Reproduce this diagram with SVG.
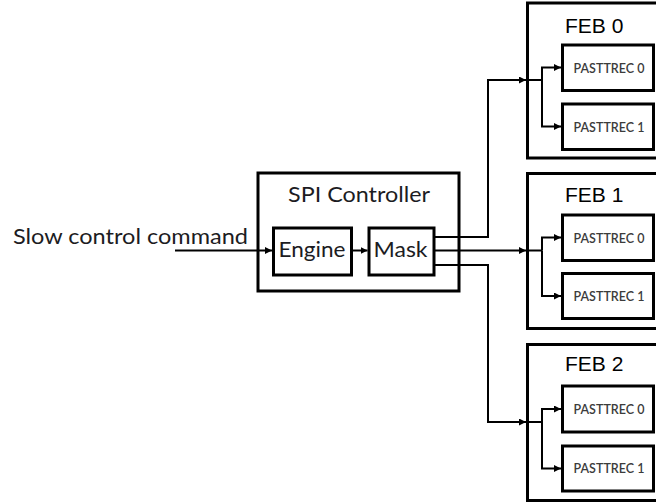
<svg xmlns="http://www.w3.org/2000/svg" width="656" height="504" viewBox="0 0 656 504">
  <defs>
    <marker id="arrow" markerUnits="userSpaceOnUse" markerWidth="8" markerHeight="7" refX="7" refY="3.5" orient="auto">
      <path d="M0,0 L7,3.5 L0,7 z" fill="#000"/>
    </marker>
  </defs>
  <style>
    .box { fill: #fff; stroke: #000; stroke-width: 3; }
    .wire { fill: none; stroke: #000; stroke-width: 2; }
    .arr { marker-end: url(#arrow); }
    .cal { font-family: Lato, "Open Sans", "Liberation Sans", sans-serif; fill: #1c1c22; }
    .feb { font-family: "Liberation Sans", Arial, sans-serif; font-size: 21px; fill: #000; }
    .chip { font-family: Lato, "Open Sans", "Liberation Sans", sans-serif; font-size: 14px; fill: #3c3c3c; font-weight: 600; }
  </style>

  <rect width="656" height="504" fill="#fff"/>

  <!-- input label -->
  <text id="input-label" class="cal" x="13" y="243.5" font-size="21.5" textLength="235" lengthAdjust="spacingAndGlyphs">Slow control command</text>

  <!-- SPI controller with engine and mask -->
  <g id="spi-controller">
    <rect class="box" x="258" y="173" width="201" height="118"/>
    <text class="cal" x="288" y="201.5" font-size="21" textLength="142" lengthAdjust="spacingAndGlyphs">SPI Controller</text>
  </g>
  <g id="engine">
    <rect class="box" x="273.5" y="228" width="78" height="47"/>
    <text class="cal" x="278.5" y="257" font-size="22" textLength="67" lengthAdjust="spacingAndGlyphs">Engine</text>
  </g>
  <g id="mask">
    <rect class="box" x="369" y="228" width="65" height="47"/>
    <text class="cal" x="373.5" y="257" font-size="22" textLength="54" lengthAdjust="spacingAndGlyphs">Mask</text>
  </g>

  <!-- front-end boards -->
  <g id="feb0">
    <rect class="box" x="527.5" y="3" width="140" height="155"/>
    <text class="feb" x="565" y="33">FEB 0</text>
    <g id="feb0-pasttrec0">
      <rect class="box" x="562.5" y="45" width="91" height="45.5"/>
      <text class="chip" x="573.5" y="72.5" textLength="71" lengthAdjust="spacingAndGlyphs">PASTTREC 0</text>
    </g>
    <g id="feb0-pasttrec1">
      <rect class="box" x="562.5" y="104" width="91" height="45.5"/>
      <text class="chip" x="573.5" y="131.5" textLength="71" lengthAdjust="spacingAndGlyphs">PASTTREC 1</text>
    </g>
  </g>

  <g id="feb1">
    <rect class="box" x="527.5" y="173.5" width="140" height="155"/>
    <text class="feb" x="565" y="202">FEB 1</text>
    <g id="feb1-pasttrec0">
      <rect class="box" x="562.5" y="215" width="91" height="45.5"/>
      <text class="chip" x="573.5" y="242.5" textLength="71" lengthAdjust="spacingAndGlyphs">PASTTREC 0</text>
    </g>
    <g id="feb1-pasttrec1">
      <rect class="box" x="562.5" y="273.5" width="91" height="45"/>
      <text class="chip" x="573.5" y="301" textLength="71" lengthAdjust="spacingAndGlyphs">PASTTREC 1</text>
    </g>
  </g>

  <g id="feb2">
    <rect class="box" x="527.5" y="344.5" width="140" height="156"/>
    <text class="feb" x="565" y="370.5">FEB 2</text>
    <g id="feb2-pasttrec0">
      <rect class="box" x="562.5" y="386" width="91" height="46"/>
      <text class="chip" x="573.5" y="413.5" textLength="71" lengthAdjust="spacingAndGlyphs">PASTTREC 0</text>
    </g>
    <g id="feb2-pasttrec1">
      <rect class="box" x="562.5" y="446" width="91" height="45"/>
      <text class="chip" x="573.5" y="473" textLength="71" lengthAdjust="spacingAndGlyphs">PASTTREC 1</text>
    </g>
  </g>

  <!-- connectors -->
  <g id="connectors">
    <path class="wire arr" d="M175,250.5 H272"/>
    <path class="wire arr" d="M352,250.5 H367.5"/>

    <path class="wire arr" d="M434,237 H488 V80 H526"/>
    <path class="wire arr" d="M434,250.5 H526"/>
    <path class="wire arr" d="M434,265 H488 V422 H526"/>

    <!-- fan-out inside FEB 0 -->
    <path class="wire" d="M527,80 H542"/>
    <path class="wire arr" d="M542,80 V67.5 H561"/>
    <path class="wire arr" d="M542,80 V126.5 H561"/>

    <!-- fan-out inside FEB 1 -->
    <path class="wire" d="M527,250.5 H542"/>
    <path class="wire arr" d="M542,250.5 V237.5 H561"/>
    <path class="wire arr" d="M542,250.5 V296 H561"/>

    <!-- fan-out inside FEB 2 -->
    <path class="wire" d="M527,422 H542"/>
    <path class="wire arr" d="M542,422 V409 H561"/>
    <path class="wire arr" d="M542,422 V468.5 H561"/>
  </g>
</svg>
